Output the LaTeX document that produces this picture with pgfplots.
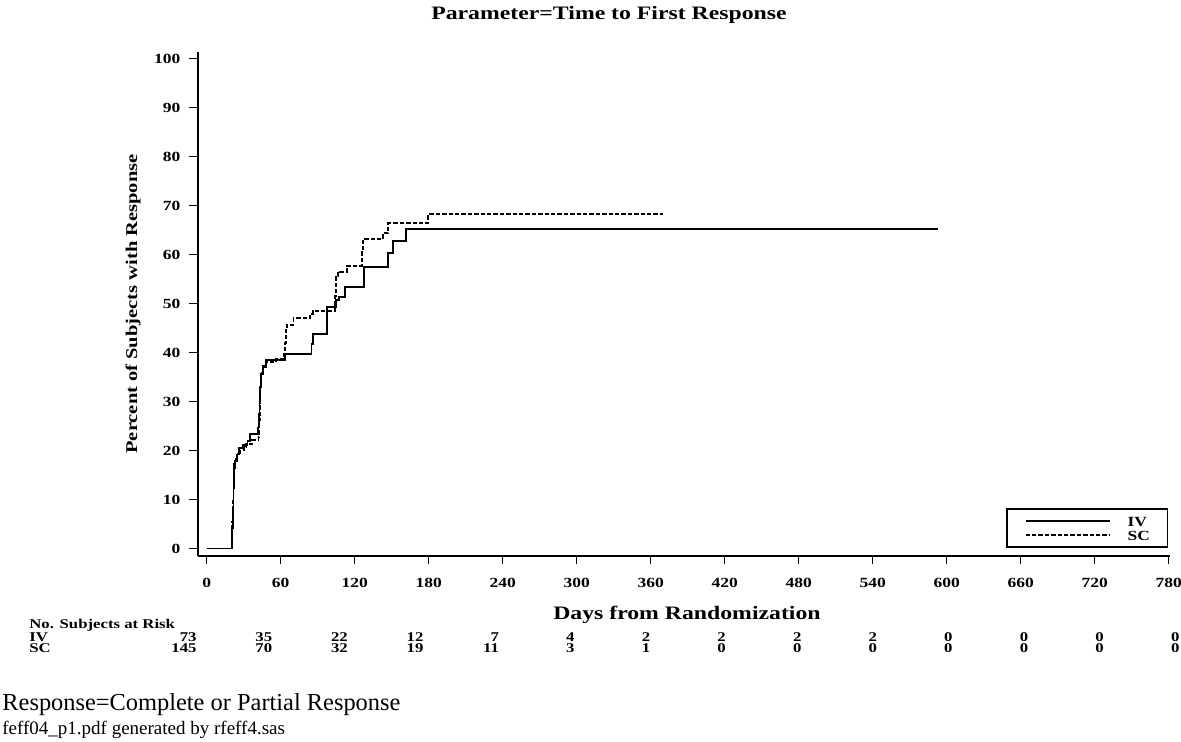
\documentclass[border=0pt]{standalone}
\usepackage{fontspec}
\setmainfont{Liberation Serif}
\newfontfamily\sas[FakeStretch=1.25]{Liberation Serif}
\usepackage{pgfplots}
\pgfplotsset{compat=1.18}
\newcommand{\tickfont}{\sas\bfseries\fontsize{7}{8}\selectfont}
\newcommand{\riskfont}{\sas\bfseries\fontsize{6.7}{7}\selectfont}
\begin{document}
\begin{tikzpicture}
\useasboundingbox (0,0) rectangle (590.5pt,371pt);
\begin{axis}[
  at={(98.85pt,93pt)}, anchor=south west,
  scale only axis, width=486.15pt, height=252.15pt,
  xmin=-7.3, xmax=781.1, ymin=-1.53, ymax=101.4,
  axis x line*=bottom, axis y line*=left,
  axis line style={line width=1pt, black},
  xtick={0,60,...,780}, ytick={0,10,...,100},
  minor tick num=0,
  tick align=outside, major tick length=4.2pt,
  tick style={line width=0.6pt, black},
  /pgf/number format/assume math mode=true,
  ticklabel style={font=\tickfont},
  xticklabel style={anchor=center, inner sep=0pt, yshift=-9.5pt},
  yticklabel style={anchor=east, inner sep=0pt, xshift=-4.3pt},
  xlabel={Days from Randomization},
  xlabel style={at={(axis description cs:0.5032,-0.116)}, anchor=center, font=\sas\bfseries\fontsize{9.5}{11}\selectfont},
  ylabel={Percent of Subjects with Response},
  ylabel style={at={(axis description cs:-0.0665,0.4997)}, anchor=center, rotate=0, font=\sas\bfseries\fontsize{8.2}{10}\selectfont},
  legend style={at={(axis description cs:0.9983,0.0153)}, anchor=south east,
    draw=black, line width=0.9pt, inner xsep=8.75pt, inner ysep=3.6pt,
    column sep=8.5pt, row sep=2pt,
    nodes={inner sep=0pt, text height=5pt, text depth=0pt, font=\tickfont}},
  legend cell align=left,
  legend image code/.code={\draw[#1] (0pt,0pt) -- (42pt,0pt);},
]
\addplot[const plot, black, line width=0.9pt] coordinates {
(0,0) (20.3,1.4) (20.8,4.1) (21.3,8.2) (21.8,12.3) (22.4,16.4) (23,17.8)
(24.3,19.2) (26.4,20.5) (29.7,21.2) (33,21.9) (35.1,23.3) (41.8,24.7)
(42.3,27.4) (42.8,30.1) (43.3,32.9) (44,35.6) (45.5,37.0) (48,38.4)
(63.5,39.7) (85,41.8) (86.5,43.8) (97.8,49.3) (105,50.7) (107.5,51.4)
(112,53.4) (127.8,57.5) (147.3,60.3) (150.8,62.8) (161.6,65.2) (593,65.2)
};
\addlegendentry{IV}
\addplot[const plot, black, line width=0.9pt, dash pattern=on 2.2pt off 1pt] coordinates {
(0,0) (20.3,2.1) (20.8,5.5) (21.3,9.7) (21.8,13.8) (22.4,17.2) (23.5,18.6)
(25,19.3) (27,20.0) (30,20.7) (32,21.4) (37,22.1) (42,22.8) (42.5,26.2)
(43,29.7) (43.5,33.1) (44.2,35.9) (45.5,37.2) (48,38.1) (56,38.6)
(62.6,39.8) (63.2,41.9) (64,44.9) (64.9,45.6) (70.3,47.0) (83.8,47.9)
(85.9,48.5) (104,51.5) (104.6,55.5) (106.7,56.5) (113.5,57.7) (126,60.5)
(126.8,63.2) (143.2,64.4) (147.3,66.4) (179.7,68.2) (369.7,68.2)
};
\addlegendentry{SC}
\end{axis}
\node[anchor=center, inner sep=0pt, font=\sas\bfseries\fontsize{9.5}{11}\selectfont] at (304.5pt,363.5pt) {Parameter=Time to First Response};
\node[anchor=west, inner sep=0pt, font=\riskfont] at (14.5pt,58.5pt) {No. Subjects at Risk};
\node[anchor=west, inner sep=0pt, font=\riskfont] at (14.5pt,52.5pt) {IV};
\node[anchor=west, inner sep=0pt, font=\riskfont] at (14.5pt,47pt) {SC};
\foreach \v [count=\i from 0] in {73,35,22,12,7,4,2,2,2,2,0,0,0,0}
  \node[anchor=east, inner sep=0pt, font=\riskfont] at ({(98.5+37.8*\i)*1pt},52.5pt) {\v};
\foreach \v [count=\i from 0] in {145,70,32,19,11,3,1,0,0,0,0,0,0,0}
  \node[anchor=east, inner sep=0pt, font=\riskfont] at ({(98.5+37.8*\i)*1pt},47pt) {\v};
\node[anchor=west, inner sep=0pt, font=\fontsize{12.2}{14}\selectfont] at (1pt,18.5pt) {Response=Complete or Partial Response};
\node[anchor=west, inner sep=0pt, font=\fontsize{9.5}{11}\selectfont] at (1pt,6pt) {feff04\_p1.pdf generated by rfeff4.sas};
\end{tikzpicture}
\end{document}
